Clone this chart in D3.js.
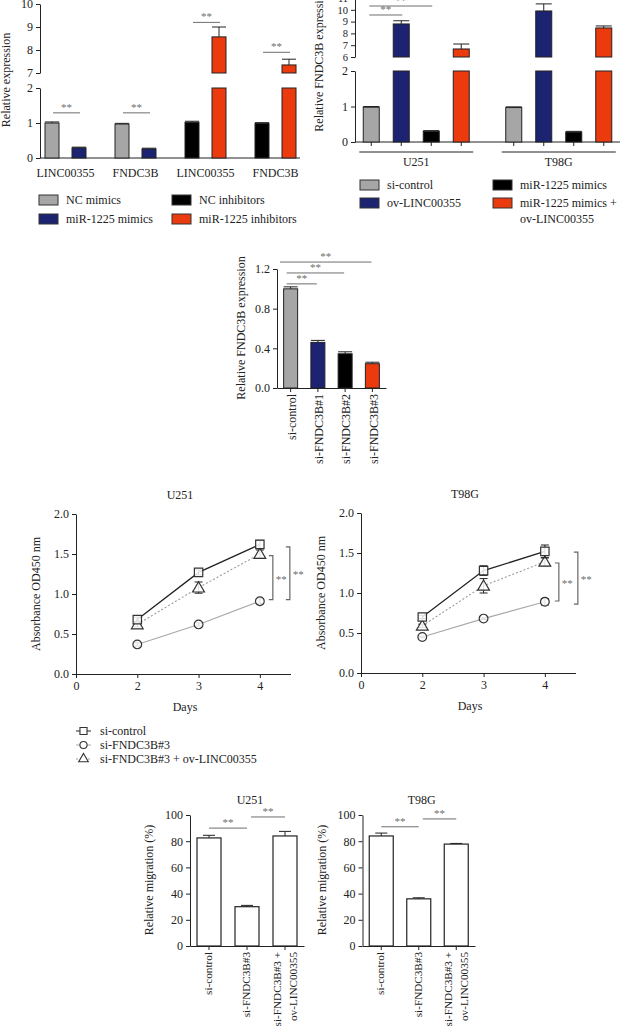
<!DOCTYPE html>
<html><head><meta charset="utf-8">
<script src="https://cdn.jsdelivr.net/npm/d3@7"></script>
<style>
body{margin:0;background:#fff}
svg{display:block}
</style>
</head><body><svg id="c" width="621" height="1026" font-family="'Liberation Serif', 'Times New Roman', 'DejaVu Serif', serif"></svg>
<script>
// ---------------- DATA ----------------
// Panel A
const aGroups = ["LINC00355","FNDC3B","LINC00355","FNDC3B"];
const aSeries = ["NC mimics","miR-1225 mimics","NC inhibitors","miR-1225 inhibitors"];
const aSeriesOfGroup = [[0,1],[0,1],[2,3],[2,3]];
const aValues = [[1.00,0.29],[0.97,0.26],[1.02,8.57],[0.99,7.35]];
const aErrors = [[0.03,0.02],[0.02,0.02],[0.03,0.43],[0.02,0.25]];
const aSigLevels = [1.29,1.29,9.2,7.9];
const aYTicksLow = [0,1,2], aYTicksHigh = [7,8,9,10];
// Panel B
const bCells = ["U251","T98G"];
const bSeries = ["si-control","ov-LINC00355","miR-1225 mimics","miR-1225 mimics +|ov-LINC00355"];
const bValues = [[0.98,8.8,0.30,6.68],[0.97,9.9,0.28,8.46]];
const bErrors = [[0.02,0.27,0.02,0.42],[0.02,0.6,0.02,0.17]];
const bSig = [{from:0,to:1,level:9.56},{from:0,to:2,level:10.32}];
const bYTicksLow = [0,1,2], bYTicksHigh = [6,7,8,9,10,11];
// Panel C
const cCategories = ["si-control","si-FNDC3B#1","si-FNDC3B#2","si-FNDC3B#3"];
const cValues = [1.0,0.46,0.345,0.245];
const cErrors = [0.02,0.02,0.02,0.015];
const cSig = [{to:1,level:1.05},{to:2,level:1.16},{to:3,level:1.27}];
const cYTicks = [0,0.4,0.8,1.2];
// Panel D
const dDays = [2,3,4];
const dXTicks = [1,2,3,4];
const dXTickLabels = ["0","2","3","4"];
const dSeries = ["si-control","si-FNDC3B#3","si-FNDC3B#3 + ov-LINC00355"];
const dU251 = [[0.68,1.27,1.62],[0.37,0.62,0.91],[0.62,1.08,1.50]];
const dU251Err = [[0.03,0.03,0.05],[0.02,0.02,0.03],[0.03,0.07,0.05]];
const dT98G = [[0.70,1.28,1.52],[0.45,0.68,0.89],[0.59,1.09,1.39]];
const dT98GErr = [[0.02,0.06,0.08],[0.01,0.01,0.04],[0.02,0.09,0.05]];
const dU251Brackets = [[1.48,0.93],[1.59,0.93]];
const dT98GBrackets = [[1.375,0.90],[1.51,0.86]];
const dYTicks = [0,0.5,1,1.5,2];
// Panel E
const eCategories = [["si-control"],["si-FNDC3B#3"],["si-FNDC3B#3 +","ov-LINC00355"]];
const eU251 = [82.5,30,84];
const eU251Err = [2,1,3.5];
const eT98G = [84,36,77.8];
const eT98GErr = [2.2,0.8,0.5];
const eU251Sig = [{from:0,to:1,level:90},{from:1,to:2,level:98.5}];
const eT98GSig = [{from:0,to:1,level:91},{from:1,to:2,level:97}];
const eYTicks = [0,20,40,60,80,100];

// ---------------- STYLE ----------------
const FONT = "'Liberation Serif', 'Times New Roman', 'DejaVu Serif', serif";
const COL = ["#a6a6a6","#1c2371","#000000","#ea3a0e"];
const SIG = "#6e6e6e";
const svg = d3.select("#c");
const FS = 12;

function styleAxis(g,fs){
  g.attr("font-size",fs||FS).attr("font-family",FONT);
  g.selectAll("path,line").attr("stroke","#222").attr("stroke-width",1);
  g.selectAll("text").attr("fill","#222");
  return g;
}
function yLabel(x,y,txt){
  svg.append("text").attr("transform",`translate(${x},${y}) rotate(-90)`)
    .attr("text-anchor","middle").attr("font-size",FS).text(txt);
}
function sigLine(x1,x2,y){
  svg.append("line").attr("x1",x1).attr("x2",x2).attr("y1",y).attr("y2",y)
    .attr("stroke",SIG).attr("stroke-width",1);
  svg.append("text").attr("x",(x1+x2)/2).attr("y",y-2).attr("text-anchor","middle")
    .attr("font-size",11).attr("fill",SIG).text("**");
}
function errBar(cx,y0,y1,w){
  svg.append("line").attr("x1",cx).attr("x2",cx).attr("y1",y0).attr("y2",y1).attr("stroke","#222");
  svg.append("line").attr("x1",cx-w/2).attr("x2",cx+w/2).attr("y1",y1).attr("y2",y1).attr("stroke","#222");
}
function breakBar(cx,w,v,e,yLow,yHigh,bLow,bHigh,color){
  if(v<=bLow){
    svg.append("rect").attr("x",cx-w/2).attr("y",yLow(v)).attr("width",w)
      .attr("height",yLow(0)-yLow(v)).attr("fill",color).attr("stroke","#222");
    errBar(cx,yLow(v),yLow(v+e),w);
  } else {
    svg.append("rect").attr("x",cx-w/2).attr("y",yLow(bLow)).attr("width",w)
      .attr("height",yLow(0)-yLow(bLow)).attr("fill",color).attr("stroke","#222");
    svg.append("rect").attr("x",cx-w/2).attr("y",yHigh(v)).attr("width",w)
      .attr("height",yHigh(bHigh)-yHigh(v)).attr("fill",color).attr("stroke","#222");
    errBar(cx,yHigh(v),yHigh(v+e),w);
  }
}
function legendSwatch(x,y,color,lines){
  svg.append("rect").attr("x",x).attr("y",y).attr("width",19).attr("height",10)
    .attr("fill",color).attr("stroke","#333");
  lines.forEach((t,i)=>svg.append("text").attr("x",x+27).attr("y",y+9+i*16)
    .attr("font-size",FS).text(t));
}

// ---------------- PANEL A ----------------
{
  const x = d3.scaleBand().domain(d3.range(aGroups.length)).range([30.5,310.5]);
  const inner = d3.scalePoint().domain([0,1]).range([-13.5,13.5]);
  const yLow = d3.scaleLinear([0,2],[158,88]);
  const yHigh = d3.scaleLinear([7,10],[73,4]);
  const cxOf = (g,i)=>x(g)+x.bandwidth()/2+inner(i);
  svg.append("line").attr("x1",40).attr("x2",300).attr("y1",158).attr("y2",158).attr("stroke","#222");
  aGroups.forEach((name,g)=>{
    aValues[g].forEach((v,i)=>{
      breakBar(cxOf(g,i),14,v,aErrors[g][i],yLow,yHigh,2,7,COL[aSeriesOfGroup[g][i]]);
    });
    const lvl = aSigLevels[g];
    const ys = lvl>2 ? yHigh(lvl) : yLow(lvl);
    sigLine(cxOf(g,0)+1,cxOf(g,1)+1,ys);
    svg.append("text").attr("x",x(g)+x.bandwidth()/2).attr("y",177).attr("text-anchor","middle")
      .attr("font-size",FS).text(name);
  });
  styleAxis(svg.append("g").attr("transform","translate(40,0)")
    .call(d3.axisLeft(yLow).tickValues(aYTicksLow).tickSize(4).tickSizeOuter(0).tickFormat(d3.format("d"))));
  styleAxis(svg.append("g").attr("transform","translate(40,0)")
    .call(d3.axisLeft(yHigh).tickValues(aYTicksHigh).tickSize(4).tickSizeOuter(0).tickFormat(d3.format("d"))));
  yLabel(10,80,"Relative expression");
  legendSwatch(39,195,COL[0],[aSeries[0]]);
  legendSwatch(39,214,COL[1],[aSeries[1]]);
  legendSwatch(172,195,COL[2],[aSeries[2]]);
  legendSwatch(172,214,COL[3],[aSeries[3]]);
}

// ---------------- PANEL B ----------------
{
  const x = d3.scaleBand().domain(d3.range(bCells.length)).range([345,630]);
  const inner = d3.scalePoint().domain(d3.range(4)).range([-45,45]);
  const yLow = d3.scaleLinear([0,2],[142,71]);
  const yHigh = d3.scaleLinear([6,11],[57,-2]);
  const cxOf = (g,i)=>x(g)+x.bandwidth()/2+inner(i);
  svg.append("line").attr("x1",355).attr("x2",620).attr("y1",142).attr("y2",142).attr("stroke","#222");
  bCells.forEach((name,g)=>{
    bValues[g].forEach((v,i)=>{
      breakBar(cxOf(g,i),16,v,bErrors[g][i],yLow,yHigh,2,6,COL[i]);
      svg.append("line").attr("x1",cxOf(g,i)).attr("x2",cxOf(g,i)).attr("y1",142).attr("y2",146).attr("stroke","#222");
    });
    const c = x(g)+x.bandwidth()/2;
    svg.append("line").attr("x1",c-57).attr("x2",c+57).attr("y1",152).attr("y2",152).attr("stroke","#222");
    svg.append("text").attr("x",c).attr("y",166).attr("text-anchor","middle").attr("font-size",FS).text(name);
  });
  bSig.forEach(s=>sigLine(cxOf(0,s.from)-2,cxOf(0,s.to)+1,yHigh(s.level)));
  styleAxis(svg.append("g").attr("transform","translate(355,0)")
    .call(d3.axisLeft(yLow).tickValues(bYTicksLow).tickSize(4).tickSizeOuter(0).tickFormat(d3.format("d"))));
  styleAxis(svg.append("g").attr("transform","translate(355,0)")
    .call(d3.axisLeft(yHigh).tickValues(bYTicksHigh).tickSize(4).tickSizeOuter(0).tickFormat(d3.format("d"))),10.5);
  yLabel(323,60,"Relative FNDC3B expression");
  legendSwatch(360,180,COL[0],[bSeries[0]]);
  legendSwatch(360,198,COL[1],[bSeries[1]]);
  legendSwatch(493,180,COL[2],[bSeries[2]]);
  legendSwatch(493,198,COL[3],bSeries[3].split("|"));
}

// ---------------- PANEL C ----------------
{
  const x = d3.scaleBand().domain(d3.range(cCategories.length)).range([277,386]);
  const y = d3.scaleLinear([0,1.2],[388,269]);
  const cx = i=>x(i)+x.bandwidth()/2;
  cValues.forEach((v,i)=>{
    svg.append("rect").attr("x",cx(i)-7).attr("y",y(v)).attr("width",14).attr("height",y(0)-y(v))
      .attr("fill",COL[i]).attr("stroke","#222");
    errBar(cx(i),y(v),y(v+cErrors[i]),14);
  });
  styleAxis(svg.append("g").attr("transform","translate(0,388)")
    .call(d3.axisBottom(x).tickSize(4).tickSizeOuter(0).tickFormat("")));
  styleAxis(svg.append("g").attr("transform","translate(277,0)")
    .call(d3.axisLeft(y).tickValues(cYTicks).tickSize(4).tickSizeOuter(0).tickFormat(d3.format(".1f"))));
  cCategories.forEach((t,i)=>svg.append("text")
    .attr("transform",`translate(${cx(i)+1},394) rotate(-90)`).attr("text-anchor","end")
    .attr("dy","0.35em").attr("font-size",FS).text(t));
  cSig.forEach((s,k)=>sigLine(k===2?280:cx(0)-4,cx(s.to)-1,y(s.level)));
  yLabel(245,328,"Relative FNDC3B expression");
}

// ---------------- PANEL D ----------------
function linePanel(title,x0,yTop,data,err,brackets,bOff){
  const x = d3.scaleLinear([1,4.5],[x0,x0+214.5]);
  const y = d3.scaleLinear([0,2],[yTop+160,yTop]);
  styleAxis(svg.append("g").attr("transform",`translate(0,${yTop+160})`)
    .call(d3.axisBottom(x).tickValues(dXTicks).tickSize(4).tickSizeOuter(0)
      .tickFormat((d,i)=>dXTickLabels[i])));
  styleAxis(svg.append("g").attr("transform",`translate(${x0},0)`)
    .call(d3.axisLeft(y).tickValues(dYTicks).tickSize(4).tickSizeOuter(0).tickFormat(d3.format(".1f"))));
  const lineStyles = [{c:"#222",w:1.3,d:null},{c:"#a8a8a8",w:1.1,d:null},{c:"#9a9a9a",w:1.1,d:"2,2"}];
  const syms = [d3.symbolSquare,d3.symbolCircle,d3.symbolTriangle];
  const sz = [70,60,60];
  const gen = d3.line().x((d,i)=>x(dDays[i])).y(d=>y(d));
  [2,1,0].forEach(s=>{
    svg.append("path").attr("d",gen(data[s])).attr("fill","none").attr("stroke",lineStyles[s].c)
      .attr("stroke-width",lineStyles[s].w).attr("stroke-dasharray",lineStyles[s].d);
  });
  [1,2,0].forEach(s=>{
    data[s].forEach((v,i)=>{
      const cx = x(dDays[i]);
      const e = err[s][i];
      svg.append("line").attr("x1",cx).attr("x2",cx).attr("y1",y(v-e)).attr("y2",y(v+e)).attr("stroke","#222");
      [v-e,v+e].forEach(t=>svg.append("line").attr("x1",cx-4).attr("x2",cx+4).attr("y1",y(t)).attr("y2",y(t)).attr("stroke","#222"));
      svg.append("path").attr("d",d3.symbol(syms[s],sz[s])()).attr("transform",`translate(${cx},${y(v)+(s===2?1:0)})`)
        .attr("fill","#fff").attr("fill-opacity",0.85).attr("stroke","#333").attr("stroke-width",1.2);
    });
  });
  brackets.forEach((b,k)=>{
    const bx = x(4)+bOff[k];
    svg.append("path").attr("d",`M${bx-4},${y(b[0])}H${bx}V${y(b[1])}H${bx-4}`)
      .attr("fill","none").attr("stroke","#666").attr("stroke-width",1.2);
    svg.append("text").attr("x",bx+3).attr("y",(y(b[0])+y(b[1]))/2+5).attr("font-size",11)
      .attr("fill",SIG).text("**");
  });
  svg.append("text").attr("x",x0+104).attr("y",yTop-15).attr("text-anchor","middle").attr("font-size",FS).text(title);
  svg.append("text").attr("x",x0+109).attr("y",yTop+197).attr("text-anchor","middle").attr("font-size",FS).text("Days");
  yLabel(x0-36,yTop+80,"Absorbance OD450 nm");
}
linePanel("U251",76,514,dU251,dU251Err,dU251Brackets,[13,30]);
linePanel("T98G",361,513,dT98G,dT98GErr,dT98GBrackets,[14,33]);
{
  const syms = [d3.symbolSquare,d3.symbolCircle,d3.symbolTriangle];
  const lc = [["#222",null],["#a8a8a8",null],["#9a9a9a","2,2"]];
  dSeries.forEach((t,i)=>{
    const yy = 731+i*14;
    svg.append("line").attr("x1",76).attr("x2",91).attr("y1",yy).attr("y2",yy)
      .attr("stroke",lc[i][0]).attr("stroke-dasharray",lc[i][1]);
    svg.append("path").attr("d",d3.symbol(syms[i],i===0?50:40)()).attr("transform",`translate(83.5,${yy})`)
      .attr("fill","#fff").attr("stroke","#333").attr("stroke-width",1.1);
    svg.append("text").attr("x",100).attr("y",yy+4).attr("font-size",FS).text(t);
  });
}

// ---------------- PANEL E ----------------
function migPanel(title,x0,x1,vals,errs,sig){
  const x = d3.scaleBand().domain(d3.range(eCategories.length)).range([x0,x1]);
  const y = d3.scaleLinear([0,100],[946,815]);
  const cx = i=>x(i)+x.bandwidth()/2;
  vals.forEach((v,i)=>{
    svg.append("rect").attr("x",cx(i)-12).attr("y",y(v)).attr("width",24).attr("height",y(0)-y(v))
      .attr("fill","#fff").attr("stroke","#222").attr("stroke-width",1.2);
    errBar(cx(i),y(v),y(v+errs[i]),12);
  });
  styleAxis(svg.append("g").attr("transform","translate(0,946)")
    .call(d3.axisBottom(x).tickSize(4).tickSizeOuter(0).tickFormat("")));
  styleAxis(svg.append("g").attr("transform",`translate(${x0},0)`)
    .call(d3.axisLeft(y).tickValues(eYTicks).tickSize(4).tickSizeOuter(0)));
  eCategories.forEach((lines,i)=>{
    lines.forEach((t,k)=>svg.append("text")
      .attr("transform",`translate(${cx(i)+(lines.length>1?(k===0?-8:8):-1)},952) rotate(-90)`)
      .attr("text-anchor","end").attr("dy","0.35em").attr("font-size",11.2).text(t));
  });
  sig.forEach((s,k)=>sigLine(cx(s.from)+(k?4:0),cx(s.to),y(s.level)));
  svg.append("text").attr("x",(x0+x1)/2+3).attr("y",804).attr("text-anchor","middle").attr("font-size",FS).text(title);
  yLabel(x0-37,880,"Relative migration (%)");
}
migPanel("U251",190,304,eU251,eU251Err,eU251Sig);
migPanel("T98G",362.5,475,eT98G,eT98GErr,eT98GSig);

// enforce serif font on all text
svg.selectAll("text").style("font-family",FONT).each(function(){
  if(!this.getAttribute("fill")) this.setAttribute("fill","#222");
});
</script>
</body></html>
